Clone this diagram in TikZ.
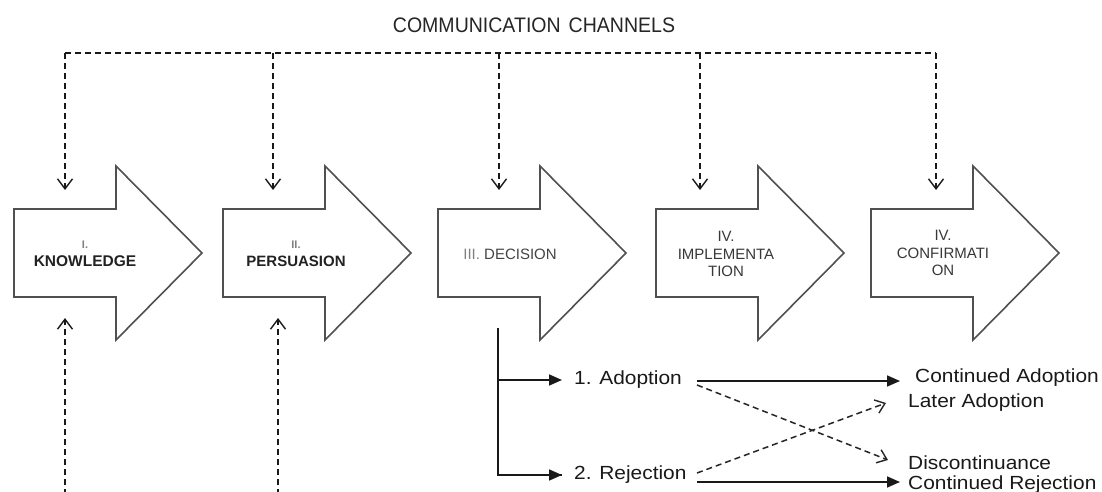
\documentclass[tikz,border=0pt]{standalone}
\usepackage{fontspec}
\setmainfont{Liberation Sans}
\newfontfamily\widefont[FakeStretch=1.1]{Liberation Sans}
\newfontfamily\narrowfont[FakeStretch=0.93]{Liberation Sans}
\usetikzlibrary{arrows.meta}
\definecolor{outl}{HTML}{505050}
\definecolor{lite}{HTML}{808080}
\definecolor{midg}{HTML}{444444}
\definecolor{dark}{HTML}{222222}
\tikzset{
  stageline/.style={draw=outl, line width=1.6pt, fill=white, line join=miter},
  chan/.style={dashed, dash pattern=on 6pt off 4pt, line width=1.5pt, black!90},
  chantip/.style={chan, -{Straight Barb[length=10pt,width=15pt,line width=1.4pt]}},
  solidarr/.style={line width=1.6pt, black!90, -{Triangle[length=13pt,width=11pt]}},
  dasharr/.style={dashed, dash pattern=on 6pt off 4pt, line width=1.5pt, black!85, -{Straight Barb[length=9pt,width=14pt,line width=1.4pt]}},
  lbl/.style={inner sep=0pt, font=\widefont\fontsize{19}{21}\selectfont, text=black!90, anchor=west},
  stagetxt/.style={inner sep=0pt, align=center, font=\fontsize{15}{17}\selectfont},
}
\newcommand\stagearrow[1]{%
  \draw[stageline] (#1,209) -- ++(102,0) -- ++(0,-43) -- ++(86,87) -- ++(-86,87) -- ++(0,-43) -- (#1,297) -- cycle;}
\begin{document}
\begin{tikzpicture}[x=1pt,y=-1pt]
\useasboundingbox (0,0) rectangle (1102,492);
\fill[white] (0,0) rectangle (1102,492);

% stage arrows
\stagearrow{14}
\stagearrow{223}
\stagearrow{438}
\stagearrow{656}
\stagearrow{871}

% stage labels
\node[stagetxt, text=lite, font=\bfseries\fontsize{11}{12}\selectfont] (k1) at (85,245) {I.};
\node[stagetxt, text=dark, font=\bfseries\fontsize{15.5}{17}\selectfont] (know) at (85,261) {KNOWLEDGE};
\node[stagetxt, text=lite, font=\bfseries\fontsize{11}{12}\selectfont] (p1) at (296,245) {II.};
\node[stagetxt, text=dark, font=\bfseries\fontsize{15}{17}\selectfont] (pers) at (296,261) {PERSUASION};
\node[stagetxt, text=midg] (deci) at (510,254) {\textcolor{lite}{III.} DECISION};
\node[stagetxt, text=dark!90, font=\fontsize{15}{17.5}\selectfont] (impl) at (726,254) {IV.\\IMPLEMENTA\\TION};
\node[stagetxt, text=dark!90, font=\fontsize{15}{17.5}\selectfont] (conf) at (943,253) {IV.\\CONFIRMATI\\ON};

% communication channels
\node[inner sep=0pt, font=\narrowfont\fontsize{21}{23}\selectfont, text=black!85] (cc) at (534,25) {COMMUNICATION\hspace{8pt}CHANNELS};
\coordinate (c1) at (65,53);
\coordinate (c2) at (273,53);
\coordinate (c3) at (499,53);
\coordinate (c4) at (700,53);
\coordinate (c5) at (936,53);
\coordinate (in1) at (65,190);
\coordinate (in2) at (273,190);
\coordinate (in3) at (499,190);
\coordinate (in4) at (700,190);
\coordinate (in5) at (936,190);
\draw[chan] (c1) -- (c5);
\draw[chantip] (c1) -- (in1);
\draw[chantip] (c2) -- (in2);
\draw[chantip] (c3) -- (in3);
\draw[chantip] (c4) -- (in4);
\draw[chantip] (c5) -- (in5);

% bottom inputs
\coordinate (b1) at (65,495);
\coordinate (b2) at (278,495);
\coordinate (u1) at (65,318);
\coordinate (u2) at (278,318);
\draw[chantip] (b1) -- (u1);
\draw[chantip] (b2) -- (u2);

% decision outcomes
\node[lbl] (adop) at (574,380) {1. Adoption};
\node[lbl] (reje) at (574,475) {2. Rejection};
\coordinate (dtop) at (498,328);
\coordinate (dmid) at (498,380);
\draw[line width=1.6pt, black!90] (dtop) |- ([xshift=-12pt]reje.west);
\draw[solidarr] (dmid) -- ([xshift=-12pt]adop.west);
\draw[solidarr] (498,475) -- ([xshift=-12pt]reje.west);

\node[lbl] (cadop) at (915,378) {Continued Adoption};
\node[lbl] (ladop) at (908,403) {Later Adoption};
\node[lbl] (disc) at (908,463) {Discontinuance};
\node[lbl] (crej) at (908,485) {Continued Rejection};

\coordinate (a1) at (697,381);
\coordinate (a2) at (697,385);
\coordinate (r1) at (697,482);
\coordinate (r2) at (697,473);
\draw[solidarr] (a1) -- (900,381);
\draw[solidarr] (r1) -- (900,482);
\draw[dasharr] (a2) -- (888,460);
\draw[dasharr] (r2) -- (886,403);
\end{tikzpicture}
\end{document}
